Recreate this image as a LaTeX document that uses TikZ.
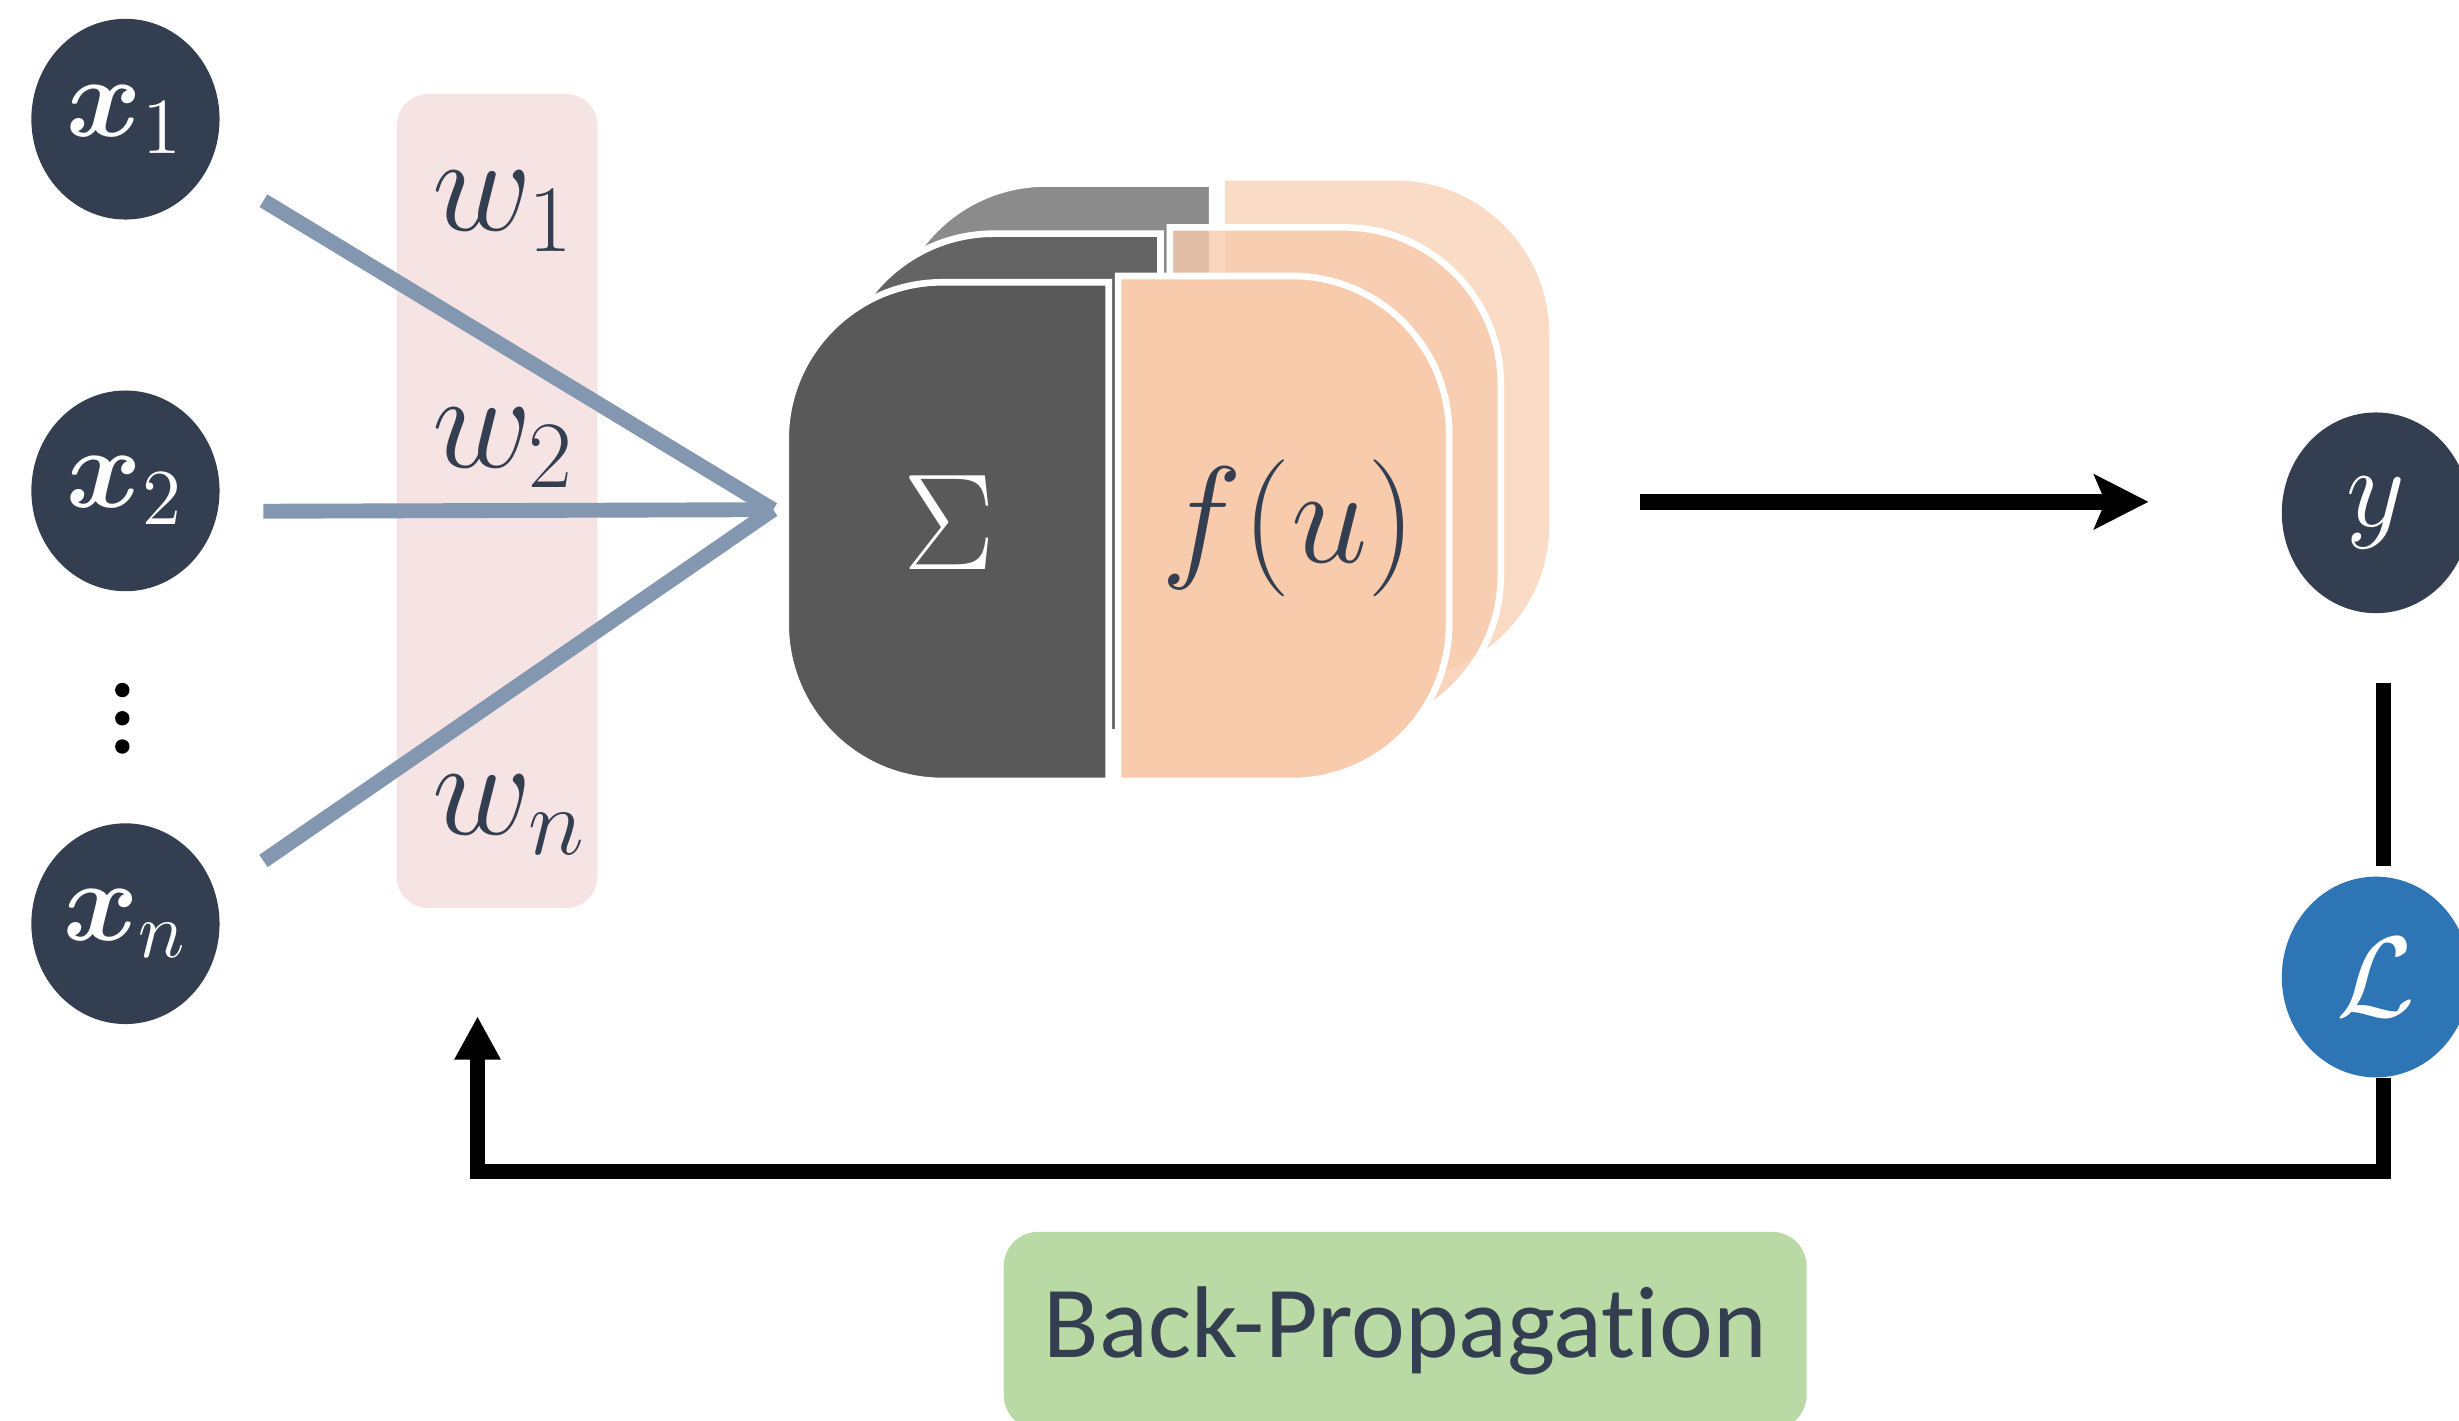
\documentclass[tikz,border=0pt]{standalone}
\usepackage{amsmath,amssymb,bm}
\usepackage{fontspec}
\newfontfamily\bpfont[Ligatures=NoCommon]{Carlito}
\usetikzlibrary{arrows.meta,shapes.geometric}
\definecolor{navy}{HTML}{333F50}
\definecolor{wireblue}{HTML}{8497B0}
\definecolor{wpink}{HTML}{F6E4E4}
\definecolor{sumgray}{HTML}{595959}
\definecolor{midgray}{HTML}{636363}
\definecolor{peach}{HTML}{F8CBAD}
\definecolor{lossblue}{HTML}{2E75B6}
\definecolor{bpgreen}{HTML}{BADAA5}

\begin{document}
\begin{tikzpicture}[
  unit/.style={ellipse,fill=navy,text=white,minimum width=1.2cm,minimum height=1.28cm,
    inner sep=0pt,font=\fontsize{22}{26}\selectfont},
  wlabel/.style={text=navy,anchor=base west,inner sep=0pt,font=\fontsize{24}{28}\selectfont},
  inwire/.style={draw=wireblue,line width=2.7pt},
  flow/.style={draw=black,line width=2.8pt},
  cell/.style={draw=white,line width=1.2pt},
  bpbox/.style={fill=bpgreen,rounded corners=0.22cm,minimum width=5.12cm,minimum height=1.26cm,
    inner sep=0pt,text=navy,font=\bpfont\fontsize{18.5}{22}\selectfont}]
  \useasboundingbox (0,0) rectangle (15.68,9.06);

  % weights
  \fill[wpink,rounded corners=0.2cm] (2.53,3.27) rectangle (3.81,8.46);

  % inputs
  \node[unit] (x1) at (0.80,8.30) {$\bm{x}_1$};
  \node[unit] (x2) at (0.80,5.93) {$\bm{x}_2$};
  \node[unit] (xn) at (0.80,3.17) {$\bm{x}_n$};
  \foreach \yy in {4.66,4.48,4.30}
    \fill (0.78,\yy) circle (0.046);

  \coordinate (s1) at (1.68,7.78);
  \coordinate (s2) at (1.68,5.80);
  \coordinate (sn) at (1.68,3.57);
  \coordinate (sum) at (4.93,5.81);
  \draw[inwire] (s1) -- (sum);
  \draw[inwire] (s2) -- (sum);
  \draw[inwire] (sn) -- (sum);

  \node[wlabel] (w1) at (2.75,7.59) {$w_1$};
  \node[wlabel] (w2) at (2.75,6.08) {$w_2$};
  \node[wlabel] (wn) at (2.75,3.74) {$w_n$};

  % stacked cells, back to front
  \foreach \dx/\dy/\dk/\pk/\op in {0.66/0.63/sumgray!70/peach!70/1,
      0.33/0.31/midgray/peach/0.8, 0/0/sumgray/peach/1} {
    \begin{scope}[shift={(\dx,\dy)}]
      \filldraw[cell,fill=\dk] (7.07,4.08) -- (6.01,4.08)
        arc[start angle=270,end angle=180,radius=1] -- (5.01,6.26)
        arc[start angle=180,end angle=90,radius=1] -- (7.07,7.26) -- cycle;
      \filldraw[cell,fill=\pk,fill opacity=\op] (7.13,4.08) -- (7.13,7.30) -- (8.24,7.30)
        arc[start angle=90,end angle=0,radius=1] -- (9.24,5.08)
        arc[start angle=0,end angle=-90,radius=1] -- cycle;
    \end{scope}
  }
  \node[text=white,font=\fontsize{30}{34}\selectfont] (sigma) at (6.05,5.73) {$\Sigma$};
  \node[text=navy,font=\fontsize{25}{30}\selectfont] (act) at (8.22,5.69) {$f(u)$};

  % output and loss
  \coordinate (fw0) at (10.46,5.86);
  \coordinate (fw1) at (13.70,5.86);
  \draw[flow,line width=3pt,-{Stealth[length=0.345cm,width=0.345cm,inset=0.07cm]}] (fw0) -- (fw1);

  \node[unit] (y) at (15.15,5.79) {$y$};
  \node[unit,fill=lossblue] (loss) at (15.15,2.83) {$\mathcal{L}$};
  \draw[flow,shorten <=0.44cm,shorten >=0.06cm] ([xshift=0.05cm]y.south) -- ([xshift=0.05cm]loss.north);

  \coordinate (bpcorner) at (3.045,1.59);
  \coordinate (wtip) at (3.045,2.58);
  \draw[flow,-{Triangle[length=0.276cm,width=0.276cm]}] ([xshift=0.05cm]loss.south) |- (bpcorner) -- (wtip);

  \node[bpbox] (bp) at (8.96,0.575) {Back-Propagation};
\end{tikzpicture}
\end{document}
